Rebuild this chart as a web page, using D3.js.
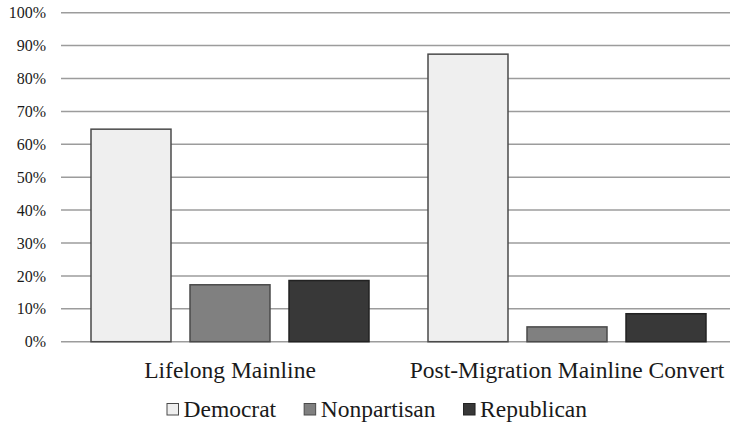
<!DOCTYPE html>
<html>
<head>
<meta charset="utf-8">
<script src="https://cdn.jsdelivr.net/npm/d3@7"></script>
<style>
  html, body { margin: 0; padding: 0; background: #fff; }
  svg { display: block; }
</style>
</head>
<body>
<svg id="chart" width="730" height="426"></svg>
<script>
// Party affiliation by mainline group (percent)
const categories = ["Lifelong Mainline", "Post-Migration Mainline Convert"];
const seriesNames = ["Democrat", "Nonpartisan", "Republican"];
const democrat = [64.6, 87.4];
const nonpartisan = [17.3, 4.5];
const republican = [18.6, 8.5];
const tickValues = [0, 10, 20, 30, 40, 50, 60, 70, 80, 90, 100];

const seriesValues = [democrat, nonpartisan, republican];
const fills = ["#efefef", "#808080", "#383838"];
const strokes = ["#4a4a4a", "#4a4a4a", "#222222"];
const serif = "'Liberation Serif', 'Times New Roman', 'DejaVu Serif', serif";

const svg = d3.select("#chart");
const plot = { left: 61.5, right: 735.5, top: 12.7, bottom: 341.7 };

const y = d3.scaleLinear().domain([0, 100]).range([plot.bottom, plot.top]);
const x0 = d3.scaleBand().domain(categories).range([plot.left, plot.right])
  .paddingInner(0).paddingOuter(0);
const x1 = d3.scaleBand().domain(seriesNames).range([0, x0.bandwidth()])
  .paddingInner(0.192).paddingOuter(0.298);

// Horizontal gridlines
svg.append("g").selectAll("line").data(tickValues).join("line")
  .attr("x1", 61).attr("x2", 730)
  .attr("y1", d => y(d)).attr("y2", d => y(d))
  .attr("stroke", "#9c9c9c").attr("stroke-width", 1.5);

// Y axis tick labels
const yAxis = d3.axisLeft(y).tickValues(tickValues).tickFormat(d => d + "%").tickSize(0).tickPadding(0);
const yg = svg.append("g").attr("transform", "translate(46,0)").call(yAxis);
yg.select(".domain").remove();
yg.attr("font-family", null).attr("font-size", null);
yg.selectAll("text")
  .style("font-family", serif)
  .style("font-size", "16px")
  .style("fill", "#1a1a1a");

// Bars
const groups = svg.append("g").selectAll("g").data(categories).join("g")
  .attr("transform", d => `translate(${x0(d)},0)`);
groups.selectAll("rect")
  .data((c, ci) => seriesNames.map((s, si) => ({ s, si, v: seriesValues[si][ci] })))
  .join("rect")
  .attr("x", d => x1(d.s))
  .attr("width", x1.bandwidth())
  .attr("y", d => y(d.v))
  .attr("height", d => y(0) - y(d.v))
  .attr("fill", d => fills[d.si])
  .attr("stroke", d => strokes[d.si])
  .attr("stroke-width", 1.5);

// Category labels
svg.append("g").selectAll("text").data(categories).join("text")
  .attr("x", d => x0(d) + x0.bandwidth() / 2)
  .attr("y", 378)
  .attr("text-anchor", "middle")
  .style("font-family", serif)
  .style("font-size", "23.5px")
  .style("fill", "#1a1a1a")
  .text(d => d);

// Legend
const legend = svg.append("g");
let lx = 167;
seriesNames.forEach((name, i) => {
  legend.append("rect")
    .attr("x", lx).attr("y", 403.5).attr("width", 11.5).attr("height", 11.5)
    .attr("fill", fills[i]).attr("stroke", strokes[i]).attr("stroke-width", 1);
  const t = legend.append("text")
    .attr("x", lx + 16.5).attr("y", 416.5)
    .style("font-family", serif)
    .style("font-size", "23.5px")
    .style("fill", "#1a1a1a")
    .text(name);
  lx += 16.5 + t.node().getComputedTextLength() + 28;
});
</script>
</body>
</html>
